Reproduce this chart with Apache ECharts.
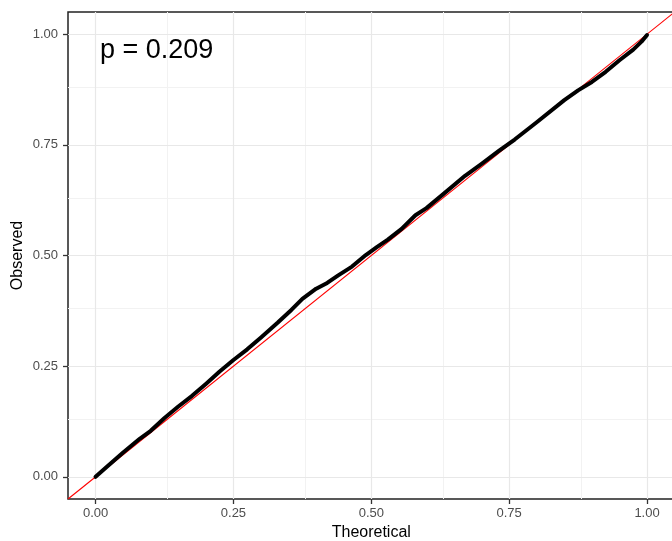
<!DOCTYPE html>
<html>
<head>
<meta charset="utf-8">
<script src="https://cdn.jsdelivr.net/npm/echarts@6/dist/echarts.min.js"></script>
<style>
  html, body { margin: 0; padding: 0; background: #fff; }
  #chart { width: 672px; height: 541px; }
</style>
</head>
<body>
<div id="chart"></div>
<script>
// values
const theoretical = [0, 0.02, 0.05, 0.08, 0.1, 0.125, 0.15, 0.175, 0.2, 0.225, 0.25, 0.275, 0.3, 0.33,
  0.355, 0.375, 0.4, 0.42, 0.44, 0.465, 0.49, 0.51, 0.53, 0.555, 0.58, 0.6, 0.63, 0.67, 0.7, 0.73,
  0.76, 0.8, 0.85, 0.875, 0.9, 0.925, 0.95, 0.975, 0.99, 1.0];
const observed = [0, 0.022, 0.055, 0.086, 0.104, 0.133, 0.159, 0.183, 0.21, 0.238, 0.264, 0.288, 0.315, 0.348,
  0.377, 0.402, 0.425, 0.438, 0.455, 0.475, 0.501, 0.519, 0.536, 0.56, 0.591, 0.607, 0.638, 0.68, 0.707, 0.735,
  0.762, 0.801, 0.851, 0.873, 0.892, 0.915, 0.941, 0.965, 0.983, 0.998];
const refLine = [-0.05, 1.05];
const majorTicks = [0, 0.25, 0.5, 0.75, 1];
const minorTicks = [0.125, 0.375, 0.625, 0.875];
const pLabel = "p = 0.209";

const font = "'Liberation Sans', Arial, sans-serif";

function axis(name, gap, margin) {
  return {
    type: "value",
    min: -0.05,
    max: 1.05,
    name: name,
    nameLocation: "middle",
    nameGap: gap,
    nameMoveOverlap: false,
    nameTextStyle: { color: "#000", fontSize: 16, fontFamily: font },
    axisLine: { show: false, onZero: false },
    splitLine: { show: false },
    axisTick: { show: true, inside: false, customValues: majorTicks, length: 5, lineStyle: { color: "#333", width: 1.3 } },
    axisLabel: {
      customValues: majorTicks,
      color: "#4d4d4d",
      fontSize: 13,
      fontFamily: font,
      margin: margin,
      formatter: v => v.toFixed(2),
    },
  };
}

const minorStyle = { color: "#f2f2f2", width: 1, type: "solid" };
const majorStyle = { color: "#e8e8e8", width: 1.2, type: "solid" };
const gridLines = [
  ...minorTicks.map(v => ({ xAxis: v, lineStyle: minorStyle })),
  ...minorTicks.map(v => ({ yAxis: v, lineStyle: minorStyle })),
  ...majorTicks.map(v => ({ xAxis: v, lineStyle: majorStyle })),
  ...majorTicks.map(v => ({ yAxis: v, lineStyle: majorStyle })),
];

const chart = echarts.init(document.getElementById("chart"), null, { renderer: "canvas" });
chart.setOption({
  animation: false,
  backgroundColor: "#fff",
  grid: {
    left: 68, top: 12, width: 606.6, height: 487,
    containLabel: false, outerBoundsMode: "none",
    show: true, borderColor: "#222", borderWidth: 1.5, backgroundColor: "transparent",
  },
  xAxis: axis("Theoretical", 26, 8),
  yAxis: axis("Observed", 42, 10),
  series: [
    {
      type: "line",
      data: [],
      silent: true,
      z: 0,
      markLine: {
        silent: true, z: 0, symbol: "none", label: { show: false }, animation: false,
        emphasis: { disabled: true }, data: gridLines,
      },
    },
    {
      type: "line",
      data: refLine.map(v => [v, v]),
      showSymbol: false,
      lineStyle: { color: "#ff0000", width: 1.1 },
      z: 2,
    },
    {
      type: "line",
      data: theoretical.map((t, i) => [t, observed[i]]),
      showSymbol: false,
      lineStyle: { color: "#000", width: 4, join: "round", cap: "round" },
      z: 3,
    },
  ],
  graphic: [{
    type: "text",
    left: 100,
    top: 37,
    style: { text: pLabel, fill: "#000", font: "27px " + font },
  }],
});
</script>
</body>
</html>
